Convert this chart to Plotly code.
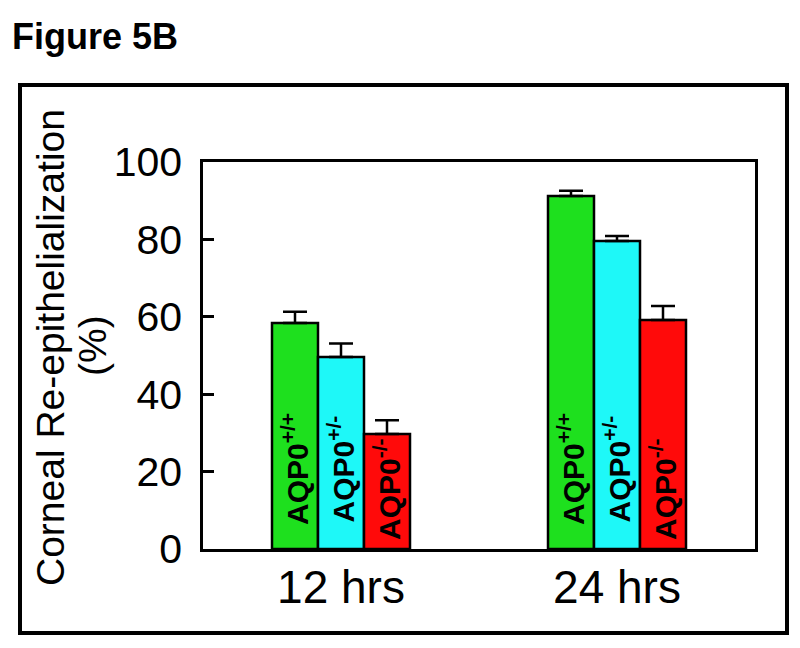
import plotly.graph_objects as go

categories = ["12 hrs", "24 hrs"]
genotypes = ["AQP0<sup>+/+</sup>", "AQP0<sup>+/-</sup>", "AQP0<sup>-/-</sup>"]
values_wt = [58.4, 91.2]
values_het = [49.6, 79.6]
values_ko = [29.7, 59.2]
err_wt = [2.9, 1.4]
err_het = [3.5, 1.3]
err_ko = [3.6, 3.6]
y_ticks = [0, 20, 40, 60, 80, 100]

series = [values_wt, values_het, values_ko]
errors = [err_wt, err_het, err_ko]
colors = ["#1ee01e", "#1ef8f8", "#ff0a0a"]

FONT = "Arial, Liberation Sans, sans-serif"
OFF = 8  # page body margin in the browser

W, H = 800, 648
L, R, T, B = 203 - OFF, 45 + OFF, 162 - OFF, 99 + OFF
pw, ph = W - L - R, H - T - B


def px_x(px):
    return (px - OFF - L) / pw


def px_y(py):
    return (H - B - (py - OFF)) / ph


fig = go.Figure()
for name, vals, errs, col in zip(genotypes, series, errors, colors):
    fig.add_trace(go.Bar(
        x=categories, y=vals, name=name,
        marker=dict(color=col, line=dict(color="black", width=2.5)),
        error_y=dict(type="data", symmetric=False, array=errs,
                     arrayminus=[0] * len(errs),
                     color="black", thickness=2.5, width=12),
    ))

# rotated genotype labels inside the bars
offsets = [-46, 0, 46]
lifts = [22, 24, 7]
for gi, name in enumerate(genotypes):
    for ci, cat in enumerate(categories):
        fig.add_annotation(
            x=cat, y=0, xref="x", yref="y", text="<b>" + name + "</b>",
            textangle=-90, showarrow=False, xshift=offsets[gi], yshift=lifts[gi],
            xanchor="center", yanchor="bottom",
            font=dict(family=FONT, size=30, color="black"),
        )

# y-axis title (two lines)
fig.add_annotation(x=px_x(50), y=px_y(348), xref="paper", yref="paper",
                   text="Corneal Re-epithelialization", textangle=-90,
                   showarrow=False, xanchor="center", yanchor="middle",
                   font=dict(family=FONT, size=39, color="black"))
fig.add_annotation(x=px_x(92), y=px_y(346), xref="paper", yref="paper",
                   text="(%)", textangle=-90,
                   showarrow=False, xanchor="center", yanchor="middle",
                   font=dict(family=FONT, size=39, color="black"))

# figure label
fig.add_annotation(x=px_x(10), y=px_y(36), xref="paper", yref="paper",
                   text="<b>Figure 5B</b>", showarrow=False,
                   xanchor="left", yanchor="middle",
                   font=dict(family=FONT, size=36, color="black"))

# outer frame
fig.add_shape(type="rect", xref="paper", yref="paper",
              x0=px_x(20), x1=px_x(787), y0=px_y(633), y1=px_y(85),
              line=dict(color="black", width=4), fillcolor="rgba(0,0,0,0)")

fig.update_layout(
    width=W, height=H,
    margin=dict(l=L, r=R, t=T, b=B),
    barmode="group", bargap=0.5, bargroupgap=0,
    showlegend=False,
    plot_bgcolor="white", paper_bgcolor="white",
    font=dict(family=FONT, color="black"),
)
fig.update_xaxes(showline=True, linecolor="black", linewidth=2.5, mirror=True,
                 ticks="", tickfont=dict(size=46, family=FONT, color="black"),
                 ticklabelstandoff=-4,
                 showgrid=False, zeroline=False)
fig.update_yaxes(range=[0, 100], tickvals=y_ticks, showline=True,
                 linecolor="black", linewidth=2.5, mirror=True,
                 ticks="inside", ticklen=11, tickwidth=2.5, tickcolor="black",
                 ticklabelstandoff=10,
                 tickfont=dict(size=41, family=FONT, color="black"),
                 showgrid=False, zeroline=False)

fig.write_html("out.html")
